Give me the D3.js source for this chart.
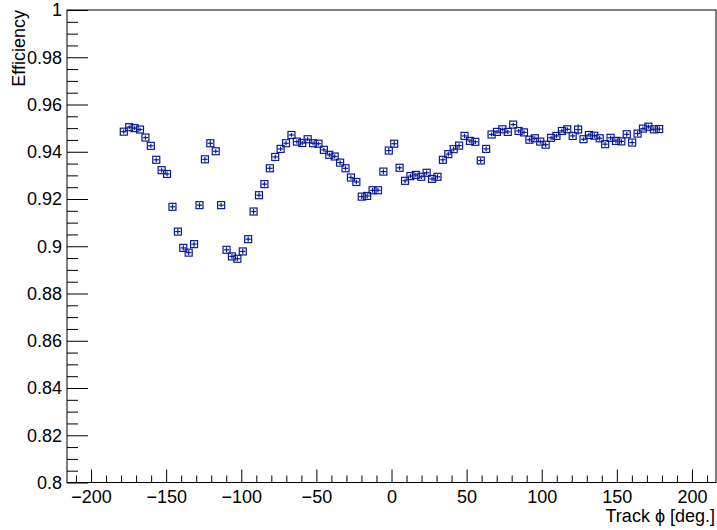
<!doctype html>
<html>
<head>
    <meta charset="utf-8" />
    <title>Efficiency vs track phi</title>
    <script src="https://cdn.jsdelivr.net/npm/d3@7"></script>
    <style>
        html, body { margin: 0; padding: 0; background: #fff; }
        svg { display: block; font-family: "Liberation Sans", Arial, sans-serif; }
    </style>
</head>
<body>
    <svg id="chart"></svg>

    <script>
        // bin centres of the track phi histogram (deg.)
        const phi = [
            -178.2, -174.6, -171.0, -167.4, -163.8, -160.2, -156.6, -153.0, -149.4, -145.8,
            -142.2, -138.6, -135.0, -131.4, -127.8, -124.2, -120.6, -117.0, -113.4, -109.8,
            -106.2, -102.6, -99.0, -95.4, -91.8, -88.2, -84.6, -81.0, -77.4, -73.8,
            -70.2, -66.6, -63.0, -59.4, -55.8, -52.2, -48.6, -45.0, -41.4, -37.8,
            -34.2, -30.6, -27.0, -23.4, -19.8, -16.2, -12.6, -9.0, -5.4, -1.8,
            1.8, 5.4, 9.0, 12.6, 16.2, 19.8, 23.4, 27.0, 30.6, 34.2,
            37.8, 41.4, 45.0, 48.6, 52.2, 55.8, 59.4, 63.0, 66.6, 70.2,
            73.8, 77.4, 81.0, 84.6, 88.2, 91.8, 95.4, 99.0, 102.6, 106.2,
            109.8, 113.4, 117.0, 120.6, 124.2, 127.8, 131.4, 135.0, 138.6, 142.2,
            145.8, 149.4, 153.0, 156.6, 160.2, 163.8, 167.4, 171.0, 174.6, 178.2
        ];
        const binHalfWidth = 1.8;

        const efficiency = [
            0.9485, 0.9504, 0.9500, 0.9494, 0.9460, 0.9425, 0.9366, 0.9322, 0.9306, 0.9167,
            0.9062, 0.8993, 0.8973, 0.9009, 0.9174, 0.9368, 0.9436, 0.9402, 0.9174, 0.8985,
            0.8957, 0.8947, 0.8978, 0.9030, 0.9147, 0.9216, 0.9263, 0.9330, 0.9378, 0.9412,
            0.9436, 0.9471, 0.9443, 0.9437, 0.9453, 0.9436, 0.9434, 0.9408, 0.9387, 0.9380,
            0.9354, 0.9330, 0.9291, 0.9272, 0.9210, 0.9213, 0.9237, 0.9237, 0.9316, 0.9405,
            0.9434, 0.9332, 0.9277, 0.9297, 0.9302, 0.9294, 0.9311, 0.9285, 0.9294, 0.9366,
            0.9390, 0.9411, 0.9426, 0.9467, 0.9446, 0.9442, 0.9363, 0.9412, 0.9473, 0.9484,
            0.9495, 0.9484, 0.9515, 0.9488, 0.9482, 0.9451, 0.9457, 0.9443, 0.9430, 0.9459,
            0.9467, 0.9488, 0.9495, 0.9467, 0.9494, 0.9453, 0.9471, 0.9468, 0.9457, 0.9432,
            0.9459, 0.9446, 0.9444, 0.9474, 0.9439, 0.9477, 0.9498, 0.9506, 0.9495, 0.9496
        ];

        const errors = [
            0.0009, 0.0008, 0.0008, 0.0008, 0.0009, 0.0009, 0.0010, 0.0010, 0.0010, 0.0011,
            0.0011, 0.0011, 0.0011, 0.0011, 0.0011, 0.0010, 0.0012, 0.0009, 0.0009, 0.0011,
            0.0011, 0.0011, 0.0011, 0.0011, 0.0011, 0.0010, 0.0010, 0.0010, 0.0009, 0.0009,
            0.0009, 0.0008, 0.0009, 0.0009, 0.0008, 0.0008, 0.0008, 0.0009, 0.0009, 0.0009,
            0.0010, 0.0010, 0.0010, 0.0010, 0.0011, 0.0011, 0.0010, 0.0010, 0.0010, 0.0011,
            0.0011, 0.0009, 0.0009, 0.0009, 0.0009, 0.0009, 0.0010, 0.0010, 0.0011, 0.0011,
            0.0010, 0.0010, 0.0010, 0.0009, 0.0009, 0.0009, 0.0012, 0.0010, 0.0008, 0.0008,
            0.0008, 0.0009, 0.0008, 0.0009, 0.0009, 0.0009, 0.0009, 0.0009, 0.0010, 0.0009,
            0.0009, 0.0009, 0.0009, 0.0010, 0.0022, 0.0008, 0.0009, 0.0010, 0.0010, 0.0010,
            0.0010, 0.0010, 0.0010, 0.0010, 0.0010, 0.0011, 0.0009, 0.0009, 0.0010, 0.0011
        ];

        const xMajorTicks = [-200, -150, -100, -50, 0, 50, 100, 150, 200];
        const yMajorTicks = [0.8, 0.82, 0.84, 0.86, 0.88, 0.9, 0.92, 0.94, 0.96, 0.98, 1];
        const xTitle = "Track \u03d5 [deg.]";
        const yTitle = "Efficiency";

        const width = 717, height = 530;
        const frame = {left: 67, right: 716, top: 10, bottom: 482.5};
        const color = "#0a1c94";
        const fontSize = 18;
        const markerSize = 7;

        const svg = d3.select("#chart")
            .attr("width", width)
            .attr("height", height)
            .attr("viewBox", [0, 0, width, height]);

        svg.append("rect")
            .attr("width", width)
            .attr("height", height)
            .attr("fill", "#fff");

        const x = d3.scaleLinear().domain([-216, 216]).range([frame.left, frame.right]);
        const y = d3.scaleLinear().domain([0.8, 1]).range([frame.bottom, frame.top]);

        // minor ticks every 10 deg. and every 0.005
        const xMinor = d3.range(-210, 211, 10).filter(v => v % 50 !== 0);
        const yMinor = d3.range(0, 41).map(i => 0.8 + i * 0.005)
            .filter(v => Math.abs(v * 50 - Math.round(v * 50)) > 1e-6);

        const gx = svg.append("g").attr("transform", `translate(0,${frame.bottom})`);
        gx.call(d3.axisBottom(x).tickValues(xMinor).tickSize(-7).tickFormat(""));
        gx.append("g").call(d3.axisBottom(x).tickValues(xMajorTicks).tickSize(-13).tickPadding(8)
            .tickFormat(d3.format("d")));

        const gy = svg.append("g").attr("transform", `translate(${frame.left},0)`);
        gy.call(d3.axisLeft(y).tickValues(yMinor).tickSize(-11).tickFormat(""));
        gy.append("g").call(d3.axisLeft(y).tickValues(yMajorTicks).tickSize(-21).tickPadding(5)
            .tickFormat(d => d3.format("")(+d.toFixed(2))));

        svg.selectAll(".domain").remove();
        svg.selectAll(".tick line").attr("stroke", "#000").attr("stroke-width", 1);
        svg.selectAll(".tick text")
            .attr("fill", "#000")
            .attr("font-size", fontSize)
            .attr("font-family", "'Liberation Sans', Arial, sans-serif");

        svg.append("rect")
            .attr("x", frame.left)
            .attr("y", frame.top)
            .attr("width", frame.right - frame.left)
            .attr("height", frame.bottom - frame.top)
            .attr("fill", "none")
            .attr("stroke", "#000")
            .attr("stroke-width", 1);

        svg.append("text")
            .attr("x", frame.right - 1)
            .attr("y", 522)
            .attr("text-anchor", "end")
            .attr("font-size", fontSize)
            .text(xTitle);

        svg.append("text")
            .attr("transform", `translate(25,${frame.top}) rotate(-90)`)
            .attr("text-anchor", "end")
            .attr("font-size", fontSize)
            .text(yTitle);

        const points = phi.map((p, i) => ({phi: p, eff: efficiency[i], err: errors[i]}));

        const pt = svg.append("g")
            .attr("stroke", color)
            .attr("stroke-width", 1.2)
            .attr("fill", "none")
            .selectAll("g")
            .data(points)
            .join("g");

        pt.append("line")
            .attr("x1", d => x(d.phi - binHalfWidth))
            .attr("x2", d => x(d.phi + binHalfWidth))
            .attr("y1", d => y(d.eff))
            .attr("y2", d => y(d.eff));

        pt.append("line")
            .attr("x1", d => x(d.phi))
            .attr("x2", d => x(d.phi))
            .attr("y1", d => y(d.eff - d.err))
            .attr("y2", d => y(d.eff + d.err));

        pt.append("rect")
            .attr("x", d => x(d.phi) - markerSize / 2)
            .attr("y", d => y(d.eff) - markerSize / 2)
            .attr("width", markerSize)
            .attr("height", markerSize);
    </script>
</body>
</html>
